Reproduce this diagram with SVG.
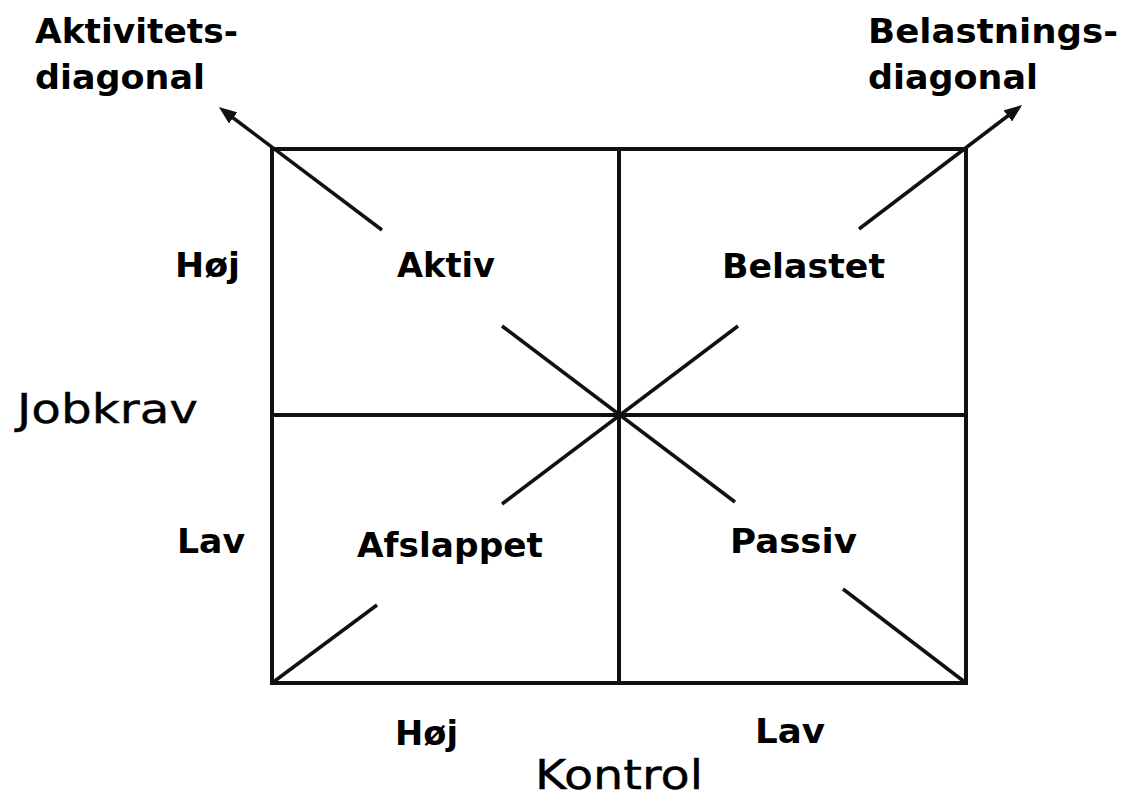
<svg xmlns="http://www.w3.org/2000/svg" width="1127" height="801" viewBox="0 0 1127 801">
  <style>
    .frame { fill: none; stroke: #111; stroke-width: 4; }
    .diag { fill: none; stroke: #111; stroke-width: 3.5; stroke-linecap: butt; }
    .lbl { font-family: "DejaVu Sans", "Liberation Sans", sans-serif; font-weight: bold; font-size: 34px; fill: #000; }
    .axis { font-family: "DejaVu Sans", "Liberation Sans", sans-serif; font-size: 40px; fill: #000; stroke: #000; stroke-width: 0.4; }
  </style>
  <defs>
    <marker id="arrow" viewBox="0 0 18 14" refX="4" refY="7" markerWidth="18" markerHeight="14" markerUnits="userSpaceOnUse" orient="auto">
      <path d="M0,0 L18,7 L0,14 z" fill="#111"/>
    </marker>
  </defs>

  <rect width="1127" height="801" fill="#fff"/>

  <!-- quadrant grid -->
  <g id="grid">
    <rect class="frame" x="272" y="149" width="694" height="534"/>
    <line class="frame" x1="619" y1="149" x2="619" y2="683"/>
    <line class="frame" x1="272" y1="415" x2="966" y2="415"/>
  </g>

  <!-- diagonals -->
  <g id="connectors">
    <line class="diag" x1="382" y1="230" x2="230" y2="115.5" marker-end="url(#arrow)"/>
    <line class="diag" x1="502" y1="326" x2="735" y2="502"/>
    <line class="diag" x1="843" y1="589" x2="966" y2="683"/>
    <line class="diag" x1="272" y1="683" x2="377" y2="605"/>
    <line class="diag" x1="502" y1="504" x2="738" y2="326"/>
    <line class="diag" x1="859" y1="229" x2="1011" y2="113.5" marker-end="url(#arrow)"/>
  </g>

  <g id="aktivitetsdiagonal">
    <text class="lbl" x="35" y="43" textLength="203" lengthAdjust="spacingAndGlyphs">Aktivitets-</text>
    <text class="lbl" x="35" y="89" textLength="170" lengthAdjust="spacingAndGlyphs">diagonal</text>
  </g>
  <g id="belastningsdiagonal">
    <text class="lbl" x="868" y="43" textLength="250" lengthAdjust="spacingAndGlyphs">Belastnings-</text>
    <text class="lbl" x="868" y="89" textLength="170" lengthAdjust="spacingAndGlyphs">diagonal</text>
  </g>

  <g id="aktiv"><text class="lbl" x="397" y="277" textLength="98" lengthAdjust="spacingAndGlyphs">Aktiv</text></g>
  <g id="belastet"><text class="lbl" x="722" y="278" textLength="163" lengthAdjust="spacingAndGlyphs">Belastet</text></g>
  <g id="afslappet"><text class="lbl" x="357" y="557" textLength="186" lengthAdjust="spacingAndGlyphs">Afslappet</text></g>
  <g id="passiv"><text class="lbl" x="730" y="553" textLength="127" lengthAdjust="spacingAndGlyphs">Passiv</text></g>

  <g id="jobkrav-axis">
    <text class="axis" x="17" y="423" textLength="181" lengthAdjust="spacingAndGlyphs">Jobkrav</text>
    <text class="lbl" x="175" y="277" textLength="65" lengthAdjust="spacingAndGlyphs">Høj</text>
    <text class="lbl" x="177" y="553" textLength="68" lengthAdjust="spacingAndGlyphs">Lav</text>
  </g>
  <g id="kontrol-axis">
    <text class="axis" x="535" y="789" textLength="168" lengthAdjust="spacingAndGlyphs">Kontrol</text>
    <text class="lbl" x="395" y="745" textLength="63" lengthAdjust="spacingAndGlyphs">Høj</text>
    <text class="lbl" x="755" y="743" textLength="70" lengthAdjust="spacingAndGlyphs">Lav</text>
  </g>
</svg>
